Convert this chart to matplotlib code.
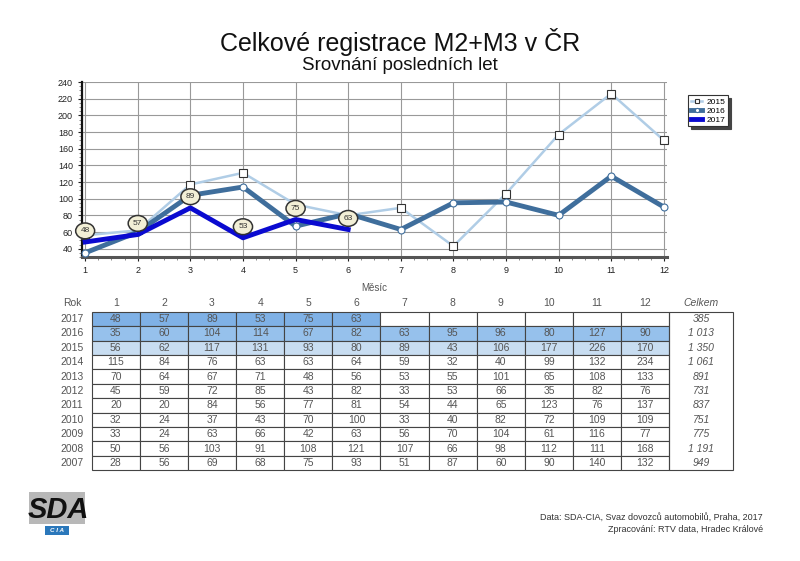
import matplotlib
matplotlib.use("Agg")
import matplotlib.pyplot as plt
from matplotlib.patches import Rectangle
from matplotlib.ticker import MultipleLocator

plt.rcParams["font.family"] = ["Liberation Sans", "DejaVu Sans"]

months = list(range(1, 13))
years = [2017, 2016, 2015, 2014, 2013, 2012, 2011, 2010, 2009, 2008, 2007]
table_vals = [
    [48, 57, 89, 53, 75, 63, None, None, None, None, None, None],
    [35, 60, 104, 114, 67, 82, 63, 95, 96, 80, 127, 90],
    [56, 62, 117, 131, 93, 80, 89, 43, 106, 177, 226, 170],
    [115, 84, 76, 63, 63, 64, 59, 32, 40, 99, 132, 234],
    [70, 64, 67, 71, 48, 56, 53, 55, 101, 65, 108, 133],
    [45, 59, 72, 85, 43, 82, 33, 53, 66, 35, 82, 76],
    [20, 20, 84, 56, 77, 81, 54, 44, 65, 123, 76, 137],
    [32, 24, 37, 43, 70, 100, 33, 40, 82, 72, 109, 109],
    [33, 24, 63, 66, 42, 63, 56, 70, 104, 61, 116, 77],
    [50, 56, 103, 91, 108, 121, 107, 66, 98, 112, 111, 168],
    [28, 56, 69, 68, 75, 93, 51, 87, 60, 90, 140, 132],
]
totals = ["385", "1 013", "1 350", "1 061", "891", "731", "837", "751", "775", "1 191", "949"]

s2015 = table_vals[2]
s2016 = table_vals[1]
s2017 = table_vals[0][:6]

W, H = 800, 561
fig = plt.figure(figsize=(W / 100, H / 100), dpi=100)

# line chart
ax = fig.add_axes([82 / W, 1 - 257 / H, (667 - 82) / W, (257 - 82) / H])
ax.plot(months, s2015, color="#b0cde6", lw=1.8, marker="s", ms=6,
        mfc="white", mec="#333333", mew=0.8, label="2015", zorder=3, clip_on=False)
ax.plot(months, s2016, color="#3f6e9c", lw=3.5, marker="o", ms=5,
        mfc="white", mec="#3f6e9c", mew=0.8, label="2016", zorder=4, clip_on=False)
ax.plot(months[:6], s2017, color="#0a0ad0", lw=3.5, label="2017", zorder=5)
for m, v in zip(months[:6], s2017):
    ax.annotate(str(v), (m, v), xytext=(0, 8), textcoords="offset points",
                ha="center", va="center", fontsize=6, color="#333333", zorder=6,
                bbox=dict(boxstyle="ellipse,pad=0.25", fc="#f2efd6", ec="#333333", lw=1.1))

ax.set_xlim(0.94, 12.06)
ax.set_ylim(30, 240)
ax.set_xticks(months)
ax.set_yticks(range(40, 241, 20))
ax.xaxis.set_minor_locator(MultipleLocator(0.25))
ax.yaxis.set_minor_locator(MultipleLocator(5))
ax.tick_params(labelsize=6.5, length=3, width=0.8, colors="#222222")
ax.tick_params(which="minor", length=2, width=0.6, colors="#777777")
ax.grid(True, color="#999999", lw=0.8)
ax.set_axisbelow(True)
for side in ["top", "right"]:
    ax.spines[side].set_visible(False)
ax.spines["left"].set_linewidth(1.6)
ax.spines["left"].set_color("#111111")
ax.spines["bottom"].set_linewidth(2.2)
ax.spines["bottom"].set_color("#555555")
ax.set_xlabel("Měsíc", fontsize=7, color="#555555", labelpad=6)

leg = ax.legend(loc="upper left", bbox_to_anchor=(684 / W, 1 - 91 / H),
                bbox_transform=fig.transFigure, fontsize=6, frameon=True,
                fancybox=False, shadow={"color": "#444444", "alpha": 1},
                handlelength=1.4, handletextpad=0.5,
                borderpad=0.3, labelspacing=0.15, markerscale=0.6)
leg.get_frame().set_edgecolor("#333333")
leg.get_frame().set_linewidth(0.8)

fig.text(0.5, 1 - 42 / H, "Celkové registrace M2+M3 v ČR", ha="center", va="center",
         fontsize=18, color="#111111")
fig.text(0.5, 1 - 65 / H, "Srovnání posledních let", ha="center", va="center",
         fontsize=13.5, color="#111111")

# table, drawn on a pixel-unit layer
lay = fig.add_axes([0, 0, 1, 1], zorder=-1)
lay.set_xlim(0, W)
lay.set_ylim(H, 0)
lay.axis("off")

x0, cw, tw = 91.7, 48.13, 64
y0, rh = 311.7, 14.4
txt_col = "#555555"
border = "#444444"
fills = {0: "#7fb1e6", 1: "#96c1ec", 2: "#c8ddf1"}

lay.text(72, 303, "Rok", ha="center", va="center", fontsize=7.5, color=txt_col)
for j, m in enumerate(months):
    lay.text(x0 + cw * (j + 0.5), 303, str(m), ha="center", va="center",
             fontsize=7.5, color=txt_col)
xt = x0 + cw * 12
lay.text(xt + tw / 2, 303, "Celkem", ha="center", va="center", fontsize=7.5,
         color=txt_col, style="italic")

for i, yr in enumerate(years):
    yc = y0 + rh * (i + 0.5)
    lay.text(72, yc, str(yr), ha="center", va="center", fontsize=7.5, color=txt_col)
    for j, v in enumerate(table_vals[i]):
        fc = fills.get(i, "white") if v is not None else "white"
        lay.add_patch(Rectangle((x0 + cw * j, y0 + rh * i), cw, rh, fc=fc,
                                ec=border, lw=0.8))
        if v is not None:
            lay.text(x0 + cw * (j + 0.5), yc, str(v), ha="center", va="center",
                     fontsize=7.5, color=txt_col)
    lay.text(xt + tw / 2, yc, totals[i], ha="center", va="center", fontsize=7.5,
             color=txt_col, style="italic")
lay.add_patch(Rectangle((xt, y0), tw, rh * len(years), fc="none", ec=border, lw=0.8))

# logo
lay.add_patch(Rectangle((29, 492), 56, 32, fc="#b8b8b8", ec="none"))
lay.text(58, 510, "SDA", ha="center", va="center", fontsize=21, weight="bold",
         style="italic", color="#111111")
lay.add_patch(Rectangle((45, 526), 24, 8.5, fc="#2b78bb", ec="none"))
lay.text(57, 530.5, "C I A", ha="center", va="center", fontsize=4.5, weight="bold",
         style="italic", color="white")

lay.text(763, 517, "Data: SDA-CIA, Svaz dovozců automobilů, Praha, 2017", ha="right",
         va="center", fontsize=6.5, color="#333333")
lay.text(763, 529, "Zpracování: RTV data, Hradec Králové", ha="right",
         va="center", fontsize=6.5, color="#333333")

fig.savefig("out.png", dpi=100)
